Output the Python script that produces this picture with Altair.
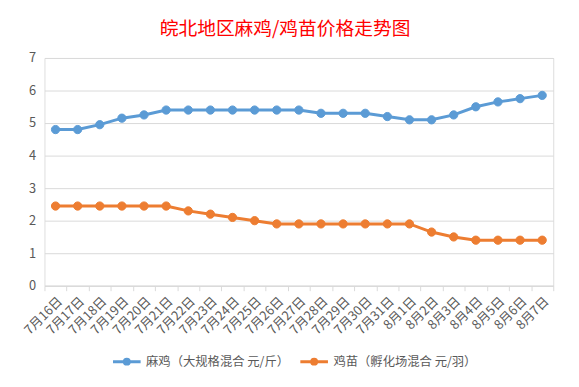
import altair as alt
import pandas as pd

dates = ["7月16日", "7月17日", "7月18日", "7月19日", "7月20日", "7月21日", "7月22日", "7月23日",
         "7月24日", "7月25日", "7月26日", "7月27日", "7月28日", "7月29日", "7月30日", "7月31日",
         "8月1日", "8月2日", "8月3日", "8月4日", "8月5日", "8月6日", "8月7日"]
maji = [4.8, 4.8, 4.95, 5.15, 5.25, 5.4, 5.4, 5.4, 5.4, 5.4, 5.4, 5.4, 5.3, 5.3, 5.3, 5.2,
        5.1, 5.1, 5.25, 5.5, 5.65, 5.75, 5.85]
jimiao = [2.45, 2.45, 2.45, 2.45, 2.45, 2.45, 2.3, 2.2, 2.1, 2.0, 1.9, 1.9, 1.9, 1.9, 1.9, 1.9,
          1.9, 1.65, 1.5, 1.4, 1.4, 1.4, 1.4]
series_names = ["麻鸡（大规格混合 元/斤）", "鸡苗（孵化场混合 元/羽）"]
colors = ["#5b9bd5", "#ed7d31"]

rows = []
for i, d in enumerate(dates):
    rows.append({"date": d, "series": series_names[0], "price": maji[i], "order": i})
    rows.append({"date": d, "series": series_names[1], "price": jimiao[i], "order": i})
df = pd.DataFrame(rows)

font = "Noto Sans CJK SC"
sym_path = "M-1,0L1,0M0.18,0A0.18,0.18,0,1,1,-0.18,0A0.18,0.18,0,1,1,0.18,0Z"

legend = alt.Legend(title=None, orient="none", direction="horizontal",
                    legendX=68, legendY=292,
                    symbolType=sym_path, symbolSize=784, symbolOpacity=1,
                    symbolStrokeWidth=3, labelFontSize=12.5,
                    labelFont=font, labelColor="#595959",
                    columnPadding=4, labelOffset=4)
cscale = alt.Scale(domain=series_names, range=colors)

x_enc = alt.X("date:N", sort=dates, title=None,
              scale=alt.Scale(type="band", paddingInner=0, paddingOuter=0),
              axis=alt.Axis(labelAngle=-45, tickBand="extent", tickSize=5,
                            tickColor="#d9d9d9", domainColor="#d9d9d9",
                            labelColor="#595959", labelFontSize=13, labelFont=font,
                            labelPadding=4, grid=False))
y_enc = alt.Y("price:Q", title=None,
              scale=alt.Scale(domain=[0, 7], nice=False),
              axis=alt.Axis(values=[0, 1, 2, 3, 4, 5, 6, 7], ticks=False, domain=False,
                            gridColor="#d9d9d9", labelColor="#595959", labelFontSize=13,
                            labelFont=font, labelPadding=9))

base = alt.Chart(df)
lines = base.mark_line(strokeWidth=3).encode(
    x=x_enc, y=y_enc,
    stroke=alt.Stroke("series:N", sort=series_names, scale=cscale, legend=legend),
    order="order:Q",
)
points = base.mark_point(filled=True, size=70, strokeWidth=1, opacity=1).encode(
    x=x_enc, y=y_enc,
    fill=alt.Fill("series:N", sort=series_names, scale=cscale, legend=legend),
    stroke=alt.Stroke("series:N", sort=series_names, scale=cscale, legend=legend),
)

chart = alt.layer(lines, points).properties(
    width=516,
    height=231,
    title=alt.TitleParams("皖北地区麻鸡/鸡苗价格走势图", anchor="middle", fontSize=19,
                          color="#ff0000", font=font, fontWeight="normal",
                          dx=-14, offset=13),
    autosize=alt.AutoSizeParams(type="none"),
    padding={"left": 37, "top": 48, "right": 18, "bottom": 100},
).configure_view(stroke=None).configure(background="white")

chart.save("out.html", embed_options={"renderer": "svg", "actions": False})
